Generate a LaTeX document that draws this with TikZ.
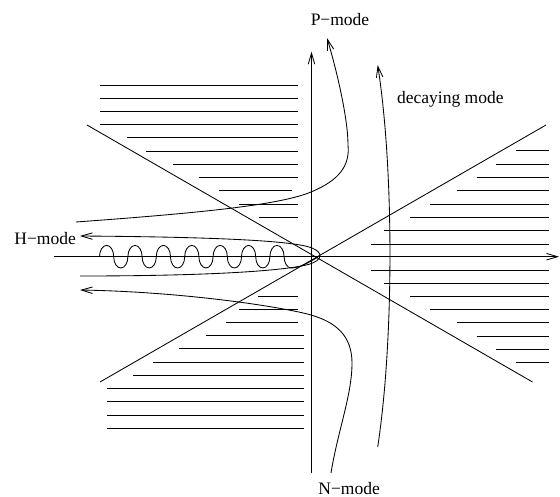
\documentclass[tikz,border=0pt]{standalone}
\usepackage{fontspec}
\setmainfont{Liberation Serif}
\usetikzlibrary{arrows.meta}
\begin{document}
\begin{tikzpicture}[x=1pt,y=-1pt,line width=0.85pt,
  hatch/.style={line width=0.85pt},
  arr/.style={-{Straight Barb[length=11pt,width=6.5pt]}},
  lbl/.style={inner sep=0pt,font=\fontsize{17.5pt}{20pt}\selectfont},
  lobe/.style={x radius=7.1pt,y radius=11.3pt}]
\useasboundingbox (0,0) rectangle (560,497);

% hatching, upper left
\foreach \s/\e [count=\i from 0] in {100/298,100/298,100/298,100/298,127/298,146/298,173/298,199/298,219/292,239/298,259/298}
  \draw[hatch] (\s,{85+13.23*\i}) -- (\e,{85+13.23*\i});
% hatching, lower left
\foreach \s/\e [count=\i from 0] in {258/298,239/298,226/298,206/304,179/304,153/304,133/304,107/304,107/304,107/304,107/304}
  \draw[hatch] (\s,{296+13.23*\i}) -- (\e,{296+13.23*\i});
% hatching, upper right
\foreach \s [count=\i from 0] in {516,496,476.7,456.7,430,410,384.3,371}
  \draw[hatch] (\s,{150.7+13.33*\i}) -- (549,{150.7+13.33*\i});
% hatching, lower right
\foreach \s [count=\i from 0] in {370.7,384,410,430,456.7,476.7,496,516}
  \draw[hatch] (\s,{270+13.19*\i}) -- (549,{270+13.19*\i});

% axes
\coordinate (hx0) at (54,256.7);
\coordinate (hx1) at (559,256.7);
\coordinate (vy0) at (311.5,473);
\coordinate (vy1) at (311.5,51.7);
\draw[arr] (hx0) -- (hx1);
\draw[arr] (vy0) -- (vy1);

% diagonals
\coordinate (d1a) at (87,125);
\coordinate (d1b) at (532.5,382);
\coordinate (d2a) at (100,382);
\coordinate (d2b) at (546,125);
\draw (d1a) -- (d1b);
\draw (d2a) -- (d2b);

% labels
\node[lbl,anchor=base] (pm) at (340,26) {P−mode};
\node[lbl,anchor=base west] (dm) at (396.7,104) {decaying mode};
\node[lbl,anchor=base west] (hm) at (14,244.5) {H−mode};
\node[lbl,anchor=base west] (nm) at (318,494.5) {N−mode};

% P-mode curve
\coordinate (p0) at (76,222);
\coordinate (p1) at (311,192);
\coordinate (p2) at (348,145);
\coordinate (p3) at (327,38);
\draw[arr] (p0) .. controls (200,213) and (280,205) .. (p1)
  .. controls (340,180) and (350,165) .. (p2)
  .. controls (348,120) and (338,75) .. (p3);

% N-mode curve
\coordinate (n0) at (331,473);
\coordinate (n1) at (352,363);
\coordinate (n2) at (311,315);
\coordinate (n3) at (80,290);
\draw[arr] (n0) .. controls (338,430) and (352,395) .. (n1)
  .. controls (352,335) and (335,322) .. (n2)
  .. controls (287,308) and (190,292) .. (n3);

% decaying mode
\coordinate (m0) at (377.7,447);
\coordinate (m1) at (377.7,65);
\draw[arr] (m0) .. controls (394,340) and (394,170) .. (m1);

% H-mode hairpin
\coordinate (h0) at (80,276);
\coordinate (h1) at (310,264);
\coordinate (h2) at (312,248);
\coordinate (h3) at (80,236);
\draw[arr] (h0) .. controls (220,276) and (290,270) .. (h1)
  .. controls (322,260) and (324,253) .. (h2)
  .. controls (295,241) and (220,237) .. (h3);

% wave
\coordinate (w0) at (99.5,256.7);
\coordinate (c0) at (318,257);
\draw (w0)
  \foreach \k in {1,...,6} {
    arc[lobe,start angle=180,end angle=0]
    arc[lobe,start angle=180,end angle=360]
  }
  arc[lobe,start angle=180,end angle=0]
  arc[lobe,start angle=180,end angle=270] coordinate (w1)
  .. controls +(8,0) and +(-10,6) .. (c0);
\end{tikzpicture}
\end{document}
